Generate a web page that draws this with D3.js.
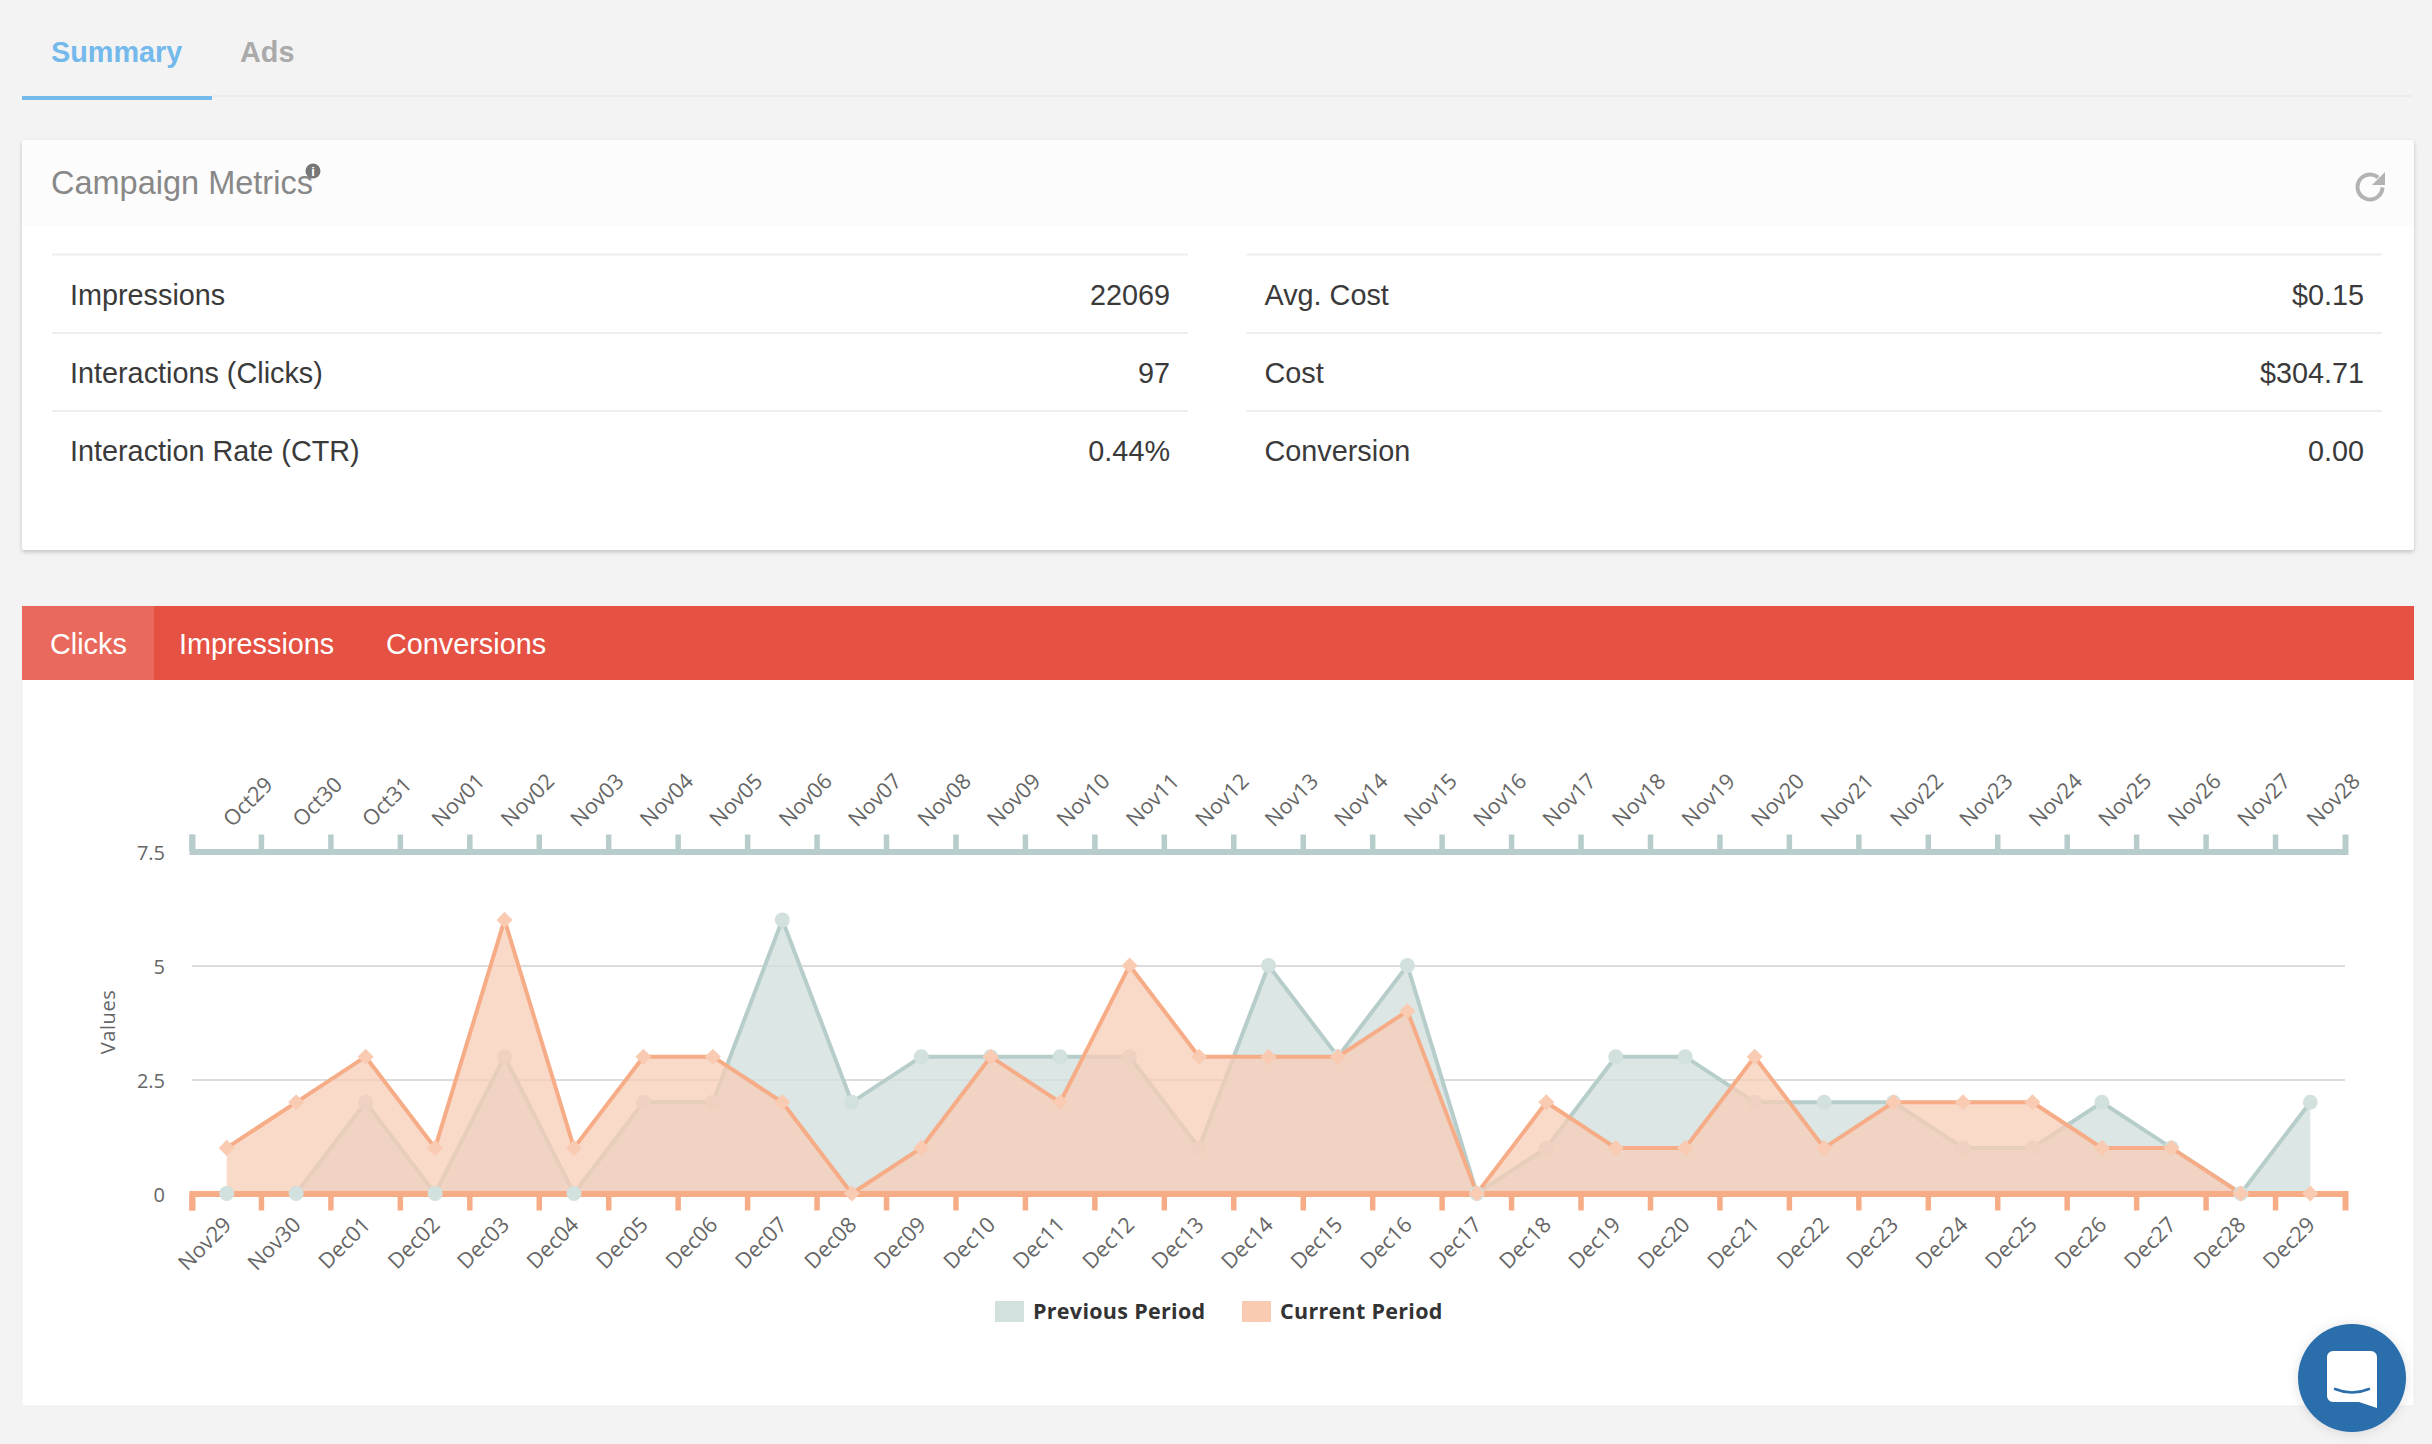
<!DOCTYPE html>
<html>
<head>
<meta charset="utf-8">
<script src="https://d3js.org/d3.v7.min.js"></script>
<style>
	body {
		margin: 0;
		background: #f3f3f3;
		font-family: "Liberation Sans", Helvetica, Arial, sans-serif;
	}
	svg {
		display: block;
	}
	.tab {
		font-size: 28.8px;
		font-weight: bold;
	}
	.row-text {
		font-size: 28.8px;
		fill: #3a3a3a;
	}
	.menu-text {
		font-size: 28.8px;
		fill: #fff;
	}
	.axis text, .axis-title {
		font-family: "Open Sans", sans-serif;
		font-size: 20px;
		fill: #666;
	}
	.date-axis text {
		font-size: 21.5px;
	}
	.legend-text {
		font-family: "Open Sans", sans-serif;
		font-size: 21.5px;
		font-weight: bold;
		letter-spacing: 0.3px;
		fill: #333;
	}
	.grid line {
		stroke: #dcdcdc;
		stroke-width: 2px;
	}
	.grid path {
		display: none;
	}
</style>
</head>

<body>
<script>

	// chart values
	var prevDates = ["Oct29", "Oct30", "Oct31", "Nov01", "Nov02", "Nov03", "Nov04", "Nov05", "Nov06", "Nov07", "Nov08",
		"Nov09", "Nov10", "Nov11", "Nov12", "Nov13", "Nov14", "Nov15", "Nov16", "Nov17", "Nov18", "Nov19", "Nov20",
		"Nov21", "Nov22", "Nov23", "Nov24", "Nov25", "Nov26", "Nov27", "Nov28"];
	var currDates = ["Nov29", "Nov30", "Dec01", "Dec02", "Dec03", "Dec04", "Dec05", "Dec06", "Dec07", "Dec08", "Dec09",
		"Dec10", "Dec11", "Dec12", "Dec13", "Dec14", "Dec15", "Dec16", "Dec17", "Dec18", "Dec19", "Dec20", "Dec21",
		"Dec22", "Dec23", "Dec24", "Dec25", "Dec26", "Dec27", "Dec28", "Dec29"];
	var prevValues = [0, 0, 2, 0, 3, 0, 2, 2, 6, 2, 3, 3, 3, 3, 1, 5, 3, 5, 0, 1, 3, 3, 2, 2, 2, 1, 1, 2, 1, 0, 2];
	var currValues = [1, 2, 3, 1, 6, 1, 3, 3, 2, 0, 1, 3, 2, 5, 3, 3, 3, 4, 0, 2, 1, 1, 3, 1, 2, 2, 2, 1, 1, 0, 0];
	var yTicks = [0, 2.5, 5, 7.5];
	var seriesNames = ["Previous Period", "Current Period"];

	var leftRows = ["Impressions", "Interactions (Clicks)", "Interaction Rate (CTR)"];
	var leftValues = ["22069", "97", "0.44%"];
	var rightRows = ["Avg. Cost", "Cost", "Conversion"];
	var rightValues = ["$0.15", "$304.71", "0.00"];
	var menuItems = ["Clicks", "Impressions", "Conversions"];

	var tealLine = "#b7cdcb", tealDot = "#d2e0de";
	var orangeLine = "#f6ad87", orangeDot = "#f9cbb3";

	var svg = d3.select("body").append("svg")
		.attr("width", 2432)
		.attr("height", 1444);

	var defs = svg.append("defs");
	var shadow = defs.append("filter").attr("id", "card-shadow")
		.attr("x", "-2%").attr("y", "-5%").attr("width", "104%").attr("height", "110%");
	shadow.append("feDropShadow")
		.attr("dx", 0).attr("dy", 2).attr("stdDeviation", 2)
		.attr("flood-color", "#000").attr("flood-opacity", 0.2);
	var chatShadow = defs.append("filter").attr("id", "chat-shadow")
		.attr("x", "-30%").attr("y", "-30%").attr("width", "160%").attr("height", "160%");
	chatShadow.append("feDropShadow")
		.attr("dx", 0).attr("dy", 1).attr("stdDeviation", 6)
		.attr("flood-color", "#000").attr("flood-opacity", 0.12);

	// top tabs
	svg.append("rect").attr("x", 212).attr("y", 95).attr("width", 2200).attr("height", 2).attr("fill", "#ececec");
	svg.append("rect").attr("x", 22).attr("y", 96).attr("width", 190).attr("height", 4).attr("fill", "#73b9ec");
	svg.append("text").attr("class", "tab").attr("x", 51).attr("y", 62).attr("fill", "#73b9ec").text("Summary");
	svg.append("text").attr("class", "tab").attr("x", 240).attr("y", 62).attr("fill", "#aaa").text("Ads");

	// metrics card
	svg.append("rect").attr("x", 22).attr("y", 140).attr("width", 2392).attr("height", 410).attr("rx", 3)
		.attr("fill", "#fff").attr("filter", "url(#card-shadow)");
	svg.append("path").attr("d", "M22,226V143a3,3 0 0 1 3,-3H2411a3,3 0 0 1 3,3V226Z").attr("fill", "#fcfcfc");
	svg.append("text").attr("x", 51).attr("y", 194).attr("font-size", 32.5).attr("fill", "#888").text("Campaign Metrics");

	// little info badge next to the title
	svg.append("circle").attr("cx", 313).attr("cy", 171).attr("r", 7.5).attr("fill", "#777");
	svg.append("text").attr("x", 313).attr("y", 176).attr("text-anchor", "middle")
		.attr("font-size", 13).attr("font-weight", "bold").attr("fill", "#fff").text("i");

	// refresh icon
	svg.append("path")
		.attr("d", d3.arc()({innerRadius: 10.5, outerRadius: 14.5, startAngle: 1.6, endAngle: 2 * Math.PI + 0.7}))
		.attr("transform", "translate(2370,187)")
		.attr("fill", "#b3b3b3");
	svg.append("path").attr("d", "M2385,172V185H2372Z").attr("fill", "#b3b3b3");

	function drawTable(labels, values, x0, x1) {
		var rowTop = [254.5, 333, 411];
		var g = svg.append("g");
		g.selectAll("rect").data(rowTop).enter().append("rect")
			.attr("x", x0).attr("y", function(d) { return d - 1; })
			.attr("width", x1 - x0).attr("height", 2).attr("fill", "#eee");
		g.selectAll(".lab").data(labels).enter().append("text")
			.attr("class", "row-text lab")
			.attr("x", x0 + 18)
			.attr("y", function(d, i) { return rowTop[i] + 50; })
			.text(function(d) { return d; });
		g.selectAll(".val").data(values).enter().append("text")
			.attr("class", "row-text val")
			.attr("x", x1 - 18)
			.attr("y", function(d, i) { return rowTop[i] + 50; })
			.attr("text-anchor", "end")
			.text(function(d) { return d; });
	}
	drawTable(leftRows, leftValues, 52, 1188);
	drawTable(rightRows, rightValues, 1246.5, 2382);

	// chart card and red menu
	svg.append("rect").attr("x", 22).attr("y", 606).attr("width", 2392).attr("height", 800)
		.attr("fill", "#fff").attr("stroke", "#efefef").attr("stroke-width", 1);
	svg.append("rect").attr("x", 22).attr("y", 606).attr("width", 2392).attr("height", 74).attr("fill", "#e55143");
	svg.append("rect").attr("x", 22).attr("y", 606).attr("width", 132).attr("height", 74).attr("fill", "#e96a5d");
	var menuX = [50, 179, 386];
	svg.selectAll(".menu-text").data(menuItems).enter().append("text")
		.attr("class", "menu-text")
		.attr("x", function(d, i) { return menuX[i]; })
		.attr("y", 654)
		.text(function(d) { return d; });

	// scales
	var left = 192, right = 2345, top0 = 851.5, bottom0 = 1193.5;
	var xPrev = d3.scaleBand().domain(prevDates).range([left, right]);
	var xCurr = d3.scaleBand().domain(currDates).range([left, right]);
	var y = d3.scaleLinear().domain([0, 7.5]).range([bottom0, top0]);
	var half = xCurr.step() / 2;

	// grid and value labels
	var yAxis = svg.append("g")
		.attr("class", "axis grid")
		.attr("transform", "translate(" + left + ",0)")
		.call(d3.axisLeft(y).tickValues(yTicks).tickSize(-(right - left)).tickPadding(27).tickFormat(function(d) { return d; }));
	yAxis.selectAll("text").attr("dy", "0.42em");
	yAxis.selectAll(".tick").filter(function(d) { return d == 0 || d == 7.5; }).select("line").remove();

	svg.append("text")
		.attr("class", "axis-title")
		.attr("transform", "translate(115,1022) rotate(-90)")
		.attr("text-anchor", "middle")
		.attr("letter-spacing", "0.6")
		.text("Values");

	// tick marks sit on the band edges, labels on the band centres
	function styleAxis(g, color) {
		g.select(".domain").attr("stroke", color).attr("stroke-width", 6).attr("fill", "none");
		g.selectAll(".tick line")
			.attr("stroke", color).attr("stroke-width", 5.5)
			.attr("x1", -half).attr("x2", -half);
	}

	function xPos(x) {
		return function(d, i) { return x(x.domain()[i]) + half; };
	}

	// zero points stay on top of the baseline, the others get tinted by the orange area
	var prevX = xPos(xPrev);
	function addPrevDots(g, test) {
		prevValues.forEach(function(v, i) {
			if (test(v)) {
				g.append("circle")
					.attr("cx", prevX(v, i))
					.attr("cy", y(v))
					.attr("r", 7.5)
					.attr("fill", tealDot);
			}
		});
	}

	// previous period, then current period painted over it
	var prevG = svg.append("g");
	prevG.append("path").datum(prevValues)
		.attr("d", d3.area().x(xPos(xPrev)).y0(y(0)).y1(function(d) { return y(d); }))
		.attr("fill", "#d2e0de").attr("fill-opacity", 0.8);
	prevG.append("path").datum(prevValues)
		.attr("d", d3.line().x(xPos(xPrev)).y(function(d) { return y(d); }))
		.attr("fill", "none").attr("stroke", tealLine).attr("stroke-width", 4);
	addPrevDots(prevG, function(v) { return v > 0; });

	var currG = svg.append("g");
	currG.append("path").datum(currValues)
		.attr("d", d3.area().x(xPos(xCurr)).y0(y(0)).y1(function(d) { return y(d); }))
		.attr("fill", "#f7ccb6").attr("fill-opacity", 0.75);
	currG.append("path").datum(currValues)
		.attr("d", d3.line().x(xPos(xCurr)).y(function(d) { return y(d); }))
		.attr("fill", "none").attr("stroke", orangeLine).attr("stroke-width", 4);

	// axes
	var topAxis = svg.append("g")
		.attr("class", "axis date-axis")
		.attr("transform", "translate(0," + top0 + ")")
		.call(d3.axisTop(xPrev).tickSize(17).tickSizeOuter(17));
	styleAxis(topAxis, tealLine);
	topAxis.selectAll("text")
		.attr("text-anchor", "start")
		.attr("y", 0).attr("x", 0)
		.attr("dy", "0.3em")
		.attr("transform", "translate(1,-28) rotate(-45)");

	var bottomAxis = svg.append("g")
		.attr("class", "axis date-axis")
		.attr("transform", "translate(0," + bottom0 + ")")
		.call(d3.axisBottom(xCurr).tickSize(17).tickSizeOuter(17));
	styleAxis(bottomAxis, orangeLine);
	bottomAxis.selectAll("text")
		.attr("text-anchor", "end")
		.attr("y", 0).attr("x", 0)
		.attr("dy", "0.3em")
		.attr("transform", "translate(1.5,28) rotate(-45)");

	var dotG = svg.append("g");
	addPrevDots(dotG, function(v) { return v == 0; });
	dotG.selectAll(".dot").data(currValues).enter().append("path")
		.attr("class", "dot")
		.attr("d", d3.symbol().type(d3.symbolSquare).size(130))
		.attr("transform", function(d, i) { return "translate(" + xPos(xCurr)(d, i) + "," + y(d) + ") rotate(45)"; })
		.attr("fill", orangeDot);

	// legend
	var legendSwatch = [995, 1242];
	var legendColor = [tealDot, orangeDot];
	svg.selectAll(".legend-swatch").data(seriesNames).enter().append("rect")
		.attr("class", "legend-swatch")
		.attr("x", function(d, i) { return legendSwatch[i]; })
		.attr("y", 1301)
		.attr("width", 29)
		.attr("height", 21)
		.attr("fill", function(d, i) { return legendColor[i]; });
	svg.selectAll(".legend-text").data(seriesNames).enter().append("text")
		.attr("class", "legend-text")
		.attr("x", function(d, i) { return legendSwatch[i] + 38; })
		.attr("y", 1319)
		.text(function(d) { return d; });

	// chat bubble button
	svg.append("circle").attr("cx", 2352).attr("cy", 1378).attr("r", 54)
		.attr("fill", "#2b6eab").attr("filter", "url(#chat-shadow)");
	svg.append("path")
		.attr("d", "M2333,1351H2371a6,6 0 0 1 6,6V1408L2359,1402H2333a6,6 0 0 1 -6,-6V1357a6,6 0 0 1 6,-6Z")
		.attr("fill", "#fff");
	svg.append("path")
		.attr("d", "M2335,1389Q2352,1396 2369,1389")
		.attr("fill", "none").attr("stroke", "#2b6eab").attr("stroke-width", 2.5).attr("stroke-linecap", "round");

</script>
</body>
</html>
